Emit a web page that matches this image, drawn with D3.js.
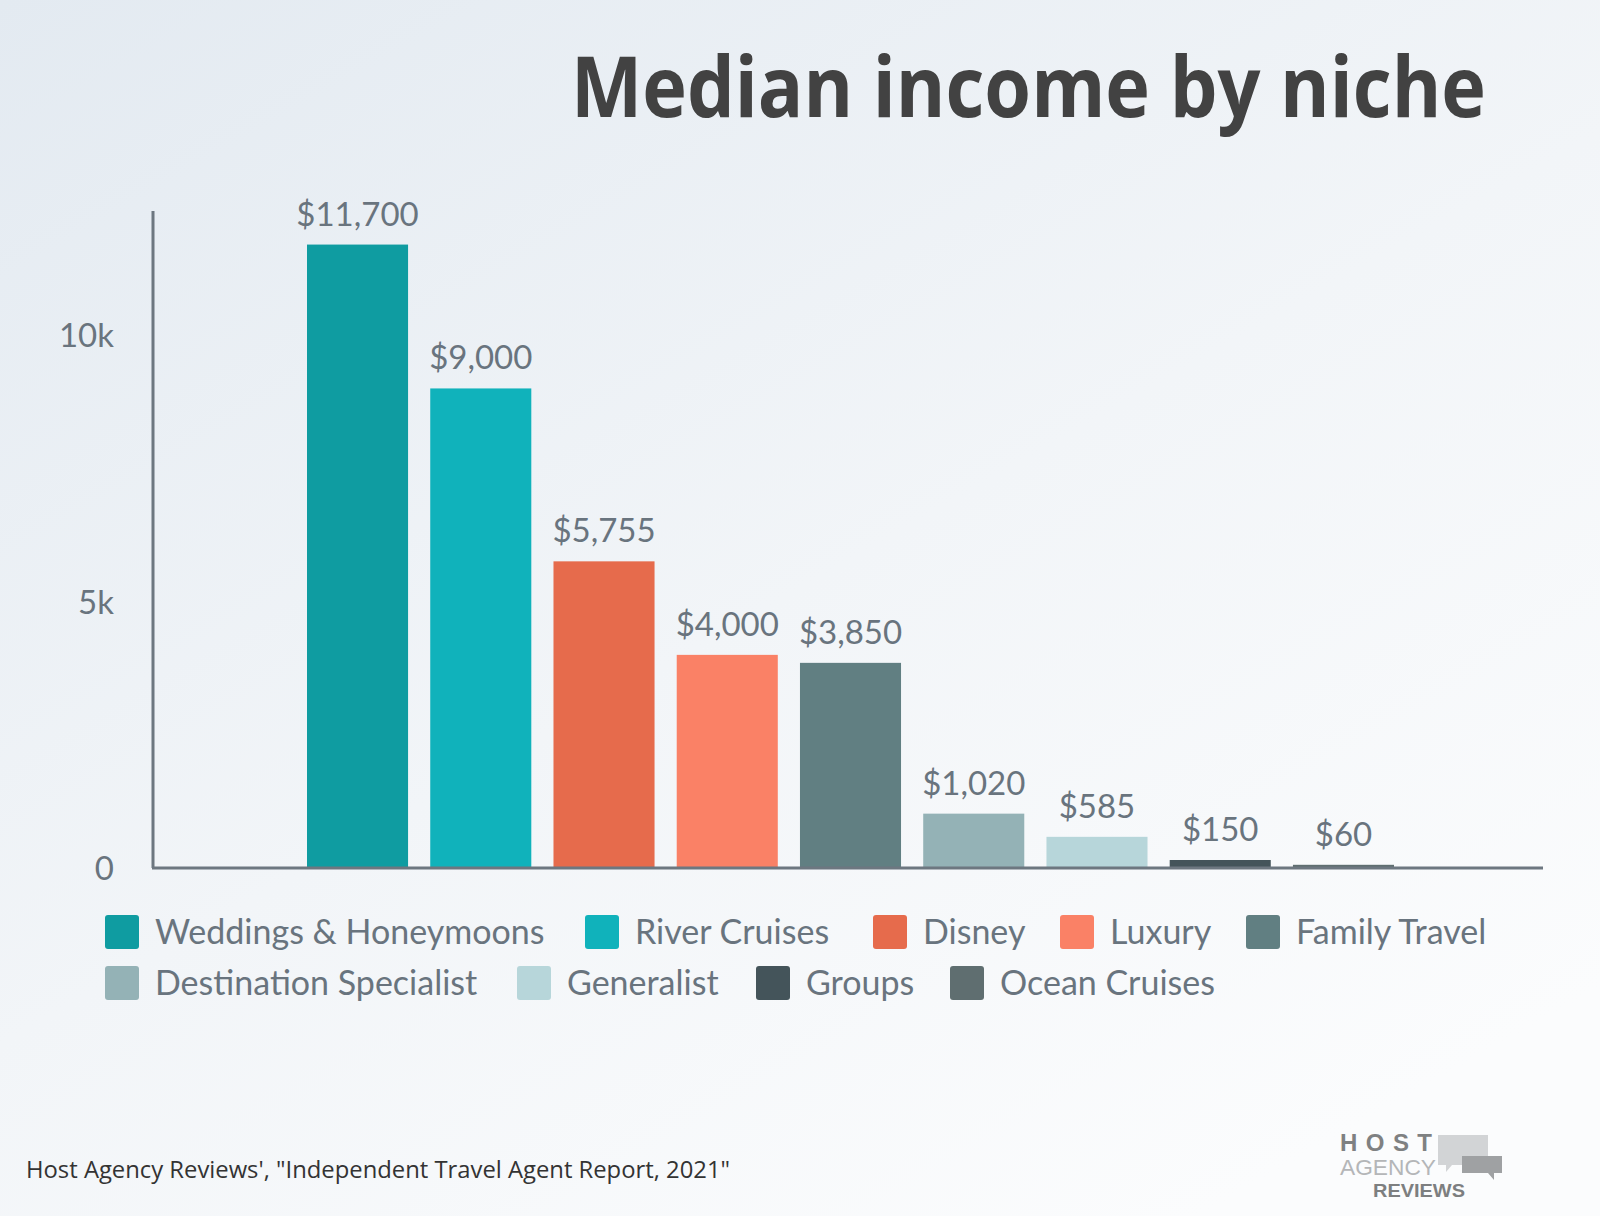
<!DOCTYPE html>
<html>
<head>
<meta charset="utf-8">
<script src="https://cdn.jsdelivr.net/npm/d3@7"></script>
<style>
  html, body { margin: 0; padding: 0; }
  body { width: 1600px; height: 1216px; overflow: hidden; }
</style>
</head>
<body>
<svg id="chart"></svg>
<script>
// chart data
var niches = ["Weddings & Honeymoons", "River Cruises", "Disney", "Luxury", "Family Travel",
              "Destination Specialist", "Generalist", "Groups", "Ocean Cruises"];
var incomes = [11700, 9000, 5755, 4000, 3850, 1020, 585, 150, 60];
var colors = ["#0f9ca1", "#10b2bb", "#e66b4c", "#fa8166", "#617f82",
              "#94b2b6", "#b7d6da", "#44545a", "#5f6e70"];
var yTicks = [0, 5000, 10000];
var tickLabels = ["0", "5k", "10k"];
var legendRows = [[0, 1, 2, 3, 4], [5, 6, 7, 8]];

var width = 1600;
var height = 1216;
var svg = d3.select("#chart")
    .attr("width", width)
    .attr("height", height)
    .style("font-family", "Lato, sans-serif");

// background
var defs = svg.append("defs");
var bg = defs.append("linearGradient")
    .attr("id", "bg")
    .attr("x1", 0).attr("y1", 0)
    .attr("x2", 0.75).attr("y2", 1);
bg.append("stop").attr("offset", "0%").attr("stop-color", "#e3eaf1");
bg.append("stop").attr("offset", "55%").attr("stop-color", "#f2f5f8");
bg.append("stop").attr("offset", "100%").attr("stop-color", "#fbfcfd");
svg.append("rect")
    .attr("width", width).attr("height", height)
    .attr("fill", "url(#bg)");

// bars sit well inside the axis span, leaving empty room at both ends
var x = d3.scaleBand()
    .domain(niches)
    .range([307, 1394])
    .paddingInner(0.18)
    .paddingOuter(0);

var y = d3.scaleLinear()
    .domain([0, 12330])
    .range([868, 211]);

// title
svg.append("text")
    .attr("x", 571)
    .attr("y", 117)
    .attr("textLength", 915)
    .attr("lengthAdjust", "spacingAndGlyphs")
    .style("font-family", "'Open Sans', sans-serif")
    .style("font-weight", 700)
    .style("font-size", "84px")
    .attr("fill", "#424242")
    .text("Median income by niche");

// bars
svg.selectAll(".bar")
    .data(incomes)
    .join("rect")
    .attr("class", "bar")
    .attr("x", (d, i) => x(niches[i]))
    .attr("width", x.bandwidth())
    .attr("y", d => y(d))
    .attr("height", d => y(0) - y(d))
    .attr("fill", (d, i) => colors[i]);

// value labels
svg.selectAll(".val")
    .data(incomes)
    .join("text")
    .attr("class", "val")
    .attr("x", (d, i) => x(niches[i]) + x.bandwidth() / 2)
    .attr("y", d => y(d) - 19)
    .attr("text-anchor", "middle")
    .style("font-size", "33px")
    .attr("fill", "#69747e")
    .text(d => "$" + d3.format(",")(d));

// axes
svg.append("line")
    .attr("x1", 153).attr("x2", 153)
    .attr("y1", y(12330)).attr("y2", y(0))
    .attr("stroke", "#6d7780").attr("stroke-width", 3);
svg.append("line")
    .attr("x1", 152).attr("x2", 1543)
    .attr("y1", y(0)).attr("y2", y(0))
    .attr("stroke", "#6d7780").attr("stroke-width", 3);

svg.selectAll(".tick")
    .data(yTicks)
    .join("text")
    .attr("class", "tick")
    .attr("x", 114)
    .attr("y", d => y(d) + 12)
    .attr("text-anchor", "end")
    .style("font-size", "33px")
    .attr("fill", "#69747e")
    .text((d, i) => tickLabels[i]);

// legend (swatch x positions per row)
var legendX = [[105, 585, 873, 1060, 1246], [105, 517, 756, 950]];
var legend = svg.append("g").attr("class", "legend");
legendRows.forEach(function(row, r) {
  var cy = 932 + r * 51;
  row.forEach(function(i, k) {
    var cx = legendX[r][k];
    legend.append("rect")
        .attr("x", cx).attr("y", cy - 17)
        .attr("width", 34).attr("height", 34)
        .attr("rx", 3)
        .attr("fill", colors[i]);
    legend.append("text")
        .attr("x", cx + 50)
        .attr("y", cy + 12)
        .style("font-size", "34px")
        .attr("fill", "#69747e")
        .text(niches[i]);
  });
});

// source
svg.append("text")
    .attr("x", 26)
    .attr("y", 1178)
    .attr("textLength", 704)
    .attr("lengthAdjust", "spacingAndGlyphs")
    .style("font-family", "'Open Sans', sans-serif")
    .style("font-size", "24px")
    .attr("fill", "#333333")
    .text("Host Agency Reviews', \"Independent Travel Agent Report, 2021\"");

// logo
var logo = svg.append("g").attr("class", "logo")
    .style("font-family", "'Liberation Sans', Arial, sans-serif");
logo.append("path")
    .attr("d", "M1438,1135 h50 v30 h-36 l-6,7 v-7 h-8 z")
    .attr("fill", "#d2d4d6");
logo.append("path")
    .attr("d", "M1462,1156 h40 v17 h-8 v7 l-6,-7 h-26 z")
    .attr("fill", "#9fa1a3");
logo.append("text")
    .attr("x", 1340).attr("y", 1151)
    .attr("textLength", 92)
    .style("font-size", "24px").style("font-weight", 700)
    .attr("fill", "#7f8182")
    .text("HOST");
logo.append("text")
    .attr("x", 1340).attr("y", 1175)
    .attr("textLength", 96)
    .attr("lengthAdjust", "spacingAndGlyphs")
    .style("font-size", "22px")
    .attr("fill", "#b4b6b8")
    .text("AGENCY");
logo.append("text")
    .attr("x", 1373).attr("y", 1197)
    .attr("textLength", 92)
    .attr("lengthAdjust", "spacingAndGlyphs")
    .style("font-size", "19px").style("font-weight", 700)
    .attr("fill", "#7d7f80")
    .text("REVIEWS");
</script>
</body>
</html>
